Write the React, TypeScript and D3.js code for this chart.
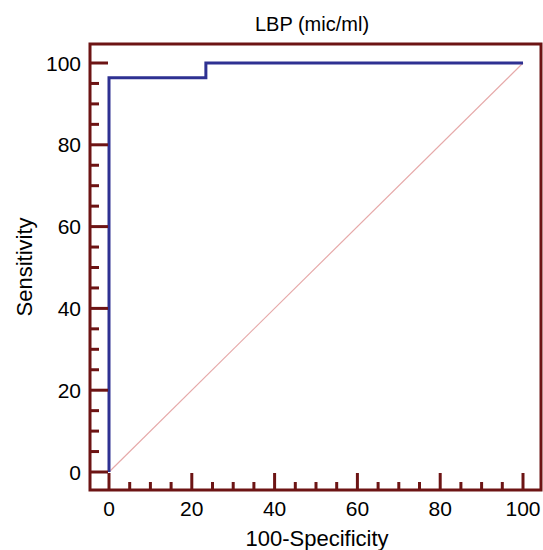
import { useEffect, useRef } from "react";
import * as d3 from "d3";

// ROC curve points (100-Specificity, Sensitivity)
const rocX = [0, 0, 23.4, 23.4, 100];
const rocY = [0, 96.4, 96.4, 100, 100];
const majorTicks = [0, 20, 40, 60, 80, 100];
const minorTicks = d3.range(0, 101, 5).filter((v) => v % 20 !== 0);
const chartTitle = "LBP (mic/ml)";
const xTitle = "100-Specificity";
const yTitle = "Sensitivity";

export default function App() {
  const ref = useRef<SVGSVGElement>(null);

  useEffect(() => {
    const svg = d3.select(ref.current);
    const width = 543;
    const height = 550;
    svg.selectAll("*").remove();
    svg.attr("viewBox", `0 0 ${width} ${height}`);

    const frame = { left: 90, top: 44, right: 541, bottom: 490 };
    const x = d3.scaleLinear().domain([0, 100]).range([109, 523]);
    const y = d3.scaleLinear().domain([0, 100]).range([472, 63]);
    const frameColor = "#6d1414";
    const font = "'Liberation Sans', Arial, sans-serif";

    // diagonal reference line
    svg.append("line")
      .attr("x1", x(0)).attr("y1", y(0))
      .attr("x2", x(100)).attr("y2", y(100))
      .attr("stroke", "#e6a9a9")
      .attr("stroke-width", 1.2);

    // ROC curve
    const pts: [number, number][] = rocX.map((v, i) => [x(v), y(rocY[i])]);
    svg.append("path")
      .attr("d", d3.line()(pts))
      .attr("fill", "none")
      .attr("stroke", "#2e3192")
      .attr("stroke-width", 3);

    // frame
    svg.append("rect")
      .attr("x", frame.left).attr("y", frame.top)
      .attr("width", frame.right - frame.left)
      .attr("height", frame.bottom - frame.top)
      .attr("fill", "none")
      .attr("stroke", frameColor)
      .attr("stroke-width", 3);

    // left ticks
    svg.append("g").selectAll("line")
      .data(majorTicks.map((v) => ({ v, len: 18 })).concat(minorTicks.map((v) => ({ v, len: 9 }))))
      .join("line")
      .attr("x1", frame.left).attr("x2", (d) => frame.left + d.len)
      .attr("y1", (d) => y(d.v)).attr("y2", (d) => y(d.v))
      .attr("stroke", frameColor)
      .attr("stroke-width", 3);

    // bottom ticks
    svg.append("g").selectAll("line")
      .data(majorTicks.map((v) => ({ v, len: 17 })).concat(minorTicks.map((v) => ({ v, len: 8 }))))
      .join("line")
      .attr("y1", frame.bottom).attr("y2", (d) => frame.bottom - d.len)
      .attr("x1", (d) => x(d.v)).attr("x2", (d) => x(d.v))
      .attr("stroke", frameColor)
      .attr("stroke-width", 3);

    // tick labels
    svg.append("g").selectAll("text")
      .data(majorTicks)
      .join("text")
      .attr("x", 81)
      .attr("y", (d) => y(d))
      .attr("dy", "0.36em")
      .attr("text-anchor", "end")
      .attr("font-family", font)
      .attr("font-size", 21)
      .text((d) => d);

    svg.append("g").selectAll("text")
      .data(majorTicks)
      .join("text")
      .attr("x", (d) => x(d))
      .attr("y", 516)
      .attr("text-anchor", "middle")
      .attr("font-family", font)
      .attr("font-size", 21)
      .text((d) => d);

    svg.append("text")
      .attr("x", 312).attr("y", 31)
      .attr("text-anchor", "middle")
      .attr("font-family", font)
      .attr("font-size", 20)
      .text(chartTitle);

    svg.append("text")
      .attr("x", 317).attr("y", 546)
      .attr("text-anchor", "middle")
      .attr("font-family", font)
      .attr("font-size", 22)
      .text(xTitle);

    svg.append("text")
      .attr("transform", `translate(32,267) rotate(-90)`)
      .attr("text-anchor", "middle")
      .attr("font-family", font)
      .attr("font-size", 22)
      .text(yTitle);
  }, []);

  return (
    <div style={{ position: "absolute", left: 0, top: 0, background: "#fff" }}>
      <svg ref={ref} width={543} height={550} style={{ display: "block" }} />
    </div>
  );
}
